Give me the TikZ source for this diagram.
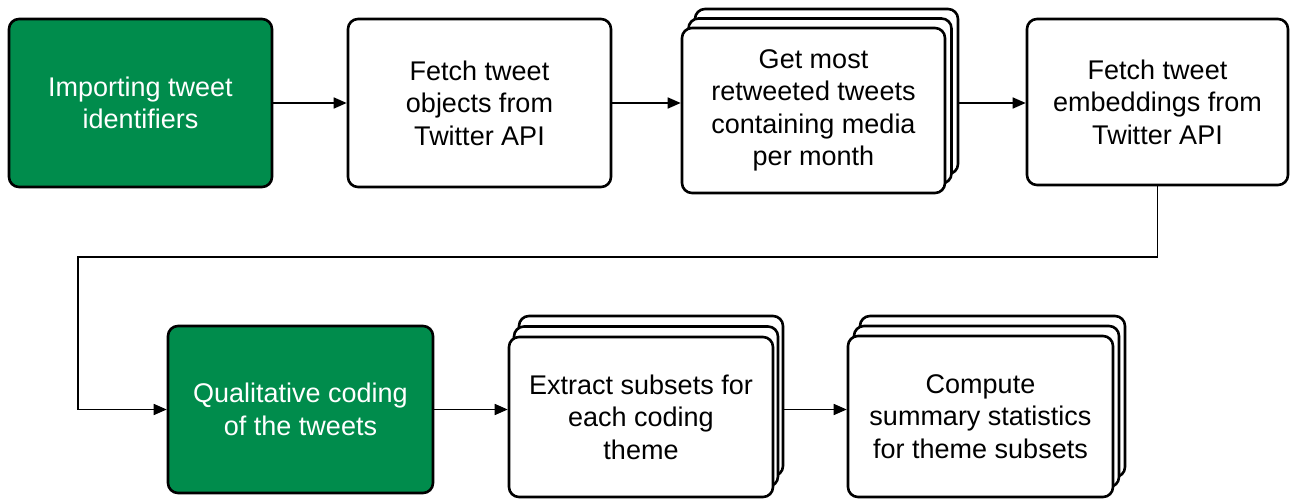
\documentclass[tikz,border=0pt]{standalone}
\usepackage{fontspec}
\setmainfont{Liberation Sans}
\usetikzlibrary{arrows.meta}
\definecolor{boxgreen}{RGB}{0,140,76}
\begin{document}
\begin{tikzpicture}[x=1pt,y=-1pt,
  box/.style={draw=black, line width=2.6pt, rounded corners=10pt, fill=white, align=center,
    inner sep=0pt, font=\fontsize{27}{32.5}\selectfont, text=black},
  greenbox/.style={box, fill=boxgreen, text=white},
  conn/.style={line width=1.6pt, -{Triangle[length=13pt,width=11pt]}},
]
\useasboundingbox (0,0) rectangle (1290,500);

% row 1
\node[greenbox, minimum width=263pt, minimum height=168pt] (b1) at (140.5,103) {Importing tweet\\identifiers};
\node[box, minimum width=263pt, minimum height=168pt] (b2) at (479.5,103) {Fetch tweet\\objects from\\Twitter API};
\node[box, minimum width=263pt, minimum height=165pt] (b3c) at (826.5,91.5) {};
\node[box, minimum width=263pt, minimum height=165pt] (b3b) at (820,101) {};
\node[box, minimum width=263pt, minimum height=165pt] (b3) at (813.5,110.5) {Get most\\retweeted tweets\\containing media\\per month};
\node[box, minimum width=261pt, minimum height=166pt] (b4) at (1157.5,102) {Fetch tweet\\embeddings from\\Twitter API};

% row 2
\node[greenbox, minimum width=265pt, minimum height=167pt] (b5) at (300.5,409.5) {Qualitative coding\\of the tweets};
\node[box, minimum width=264pt, minimum height=160pt] (b6c) at (651,396) {};
\node[box, minimum width=264pt, minimum height=160pt] (b6b) at (646,406.5) {};
\node[box, minimum width=264pt, minimum height=160pt] (b6) at (641,417) {Extract subsets for\\each coding\\theme};
\node[box, minimum width=265pt, minimum height=161pt] (b7c) at (992.5,396.5) {};
\node[box, minimum width=265pt, minimum height=161pt] (b7b) at (986.5,406.5) {};
\node[box, minimum width=265pt, minimum height=161pt] (b7) at (980.5,416.5) {Compute\\summary statistics\\for theme subsets};

\coordinate (bend) at (78,257);

\draw[conn] (b1.east) -- (b2.west);
\draw[conn] (b2.east) -- (b2.east -| b3.west);
\draw[conn] (b3c.east |- b2.east) -- (b2.east -| b4.west);
\draw[conn] (b4.south) |- (bend) |- (b5.west);
\draw[conn] (b5.east) -- (b5.east -| b6.west);
\draw[conn] (b6c.east |- b5.east) -- (b5.east -| b7.west);
\end{tikzpicture}
\end{document}
